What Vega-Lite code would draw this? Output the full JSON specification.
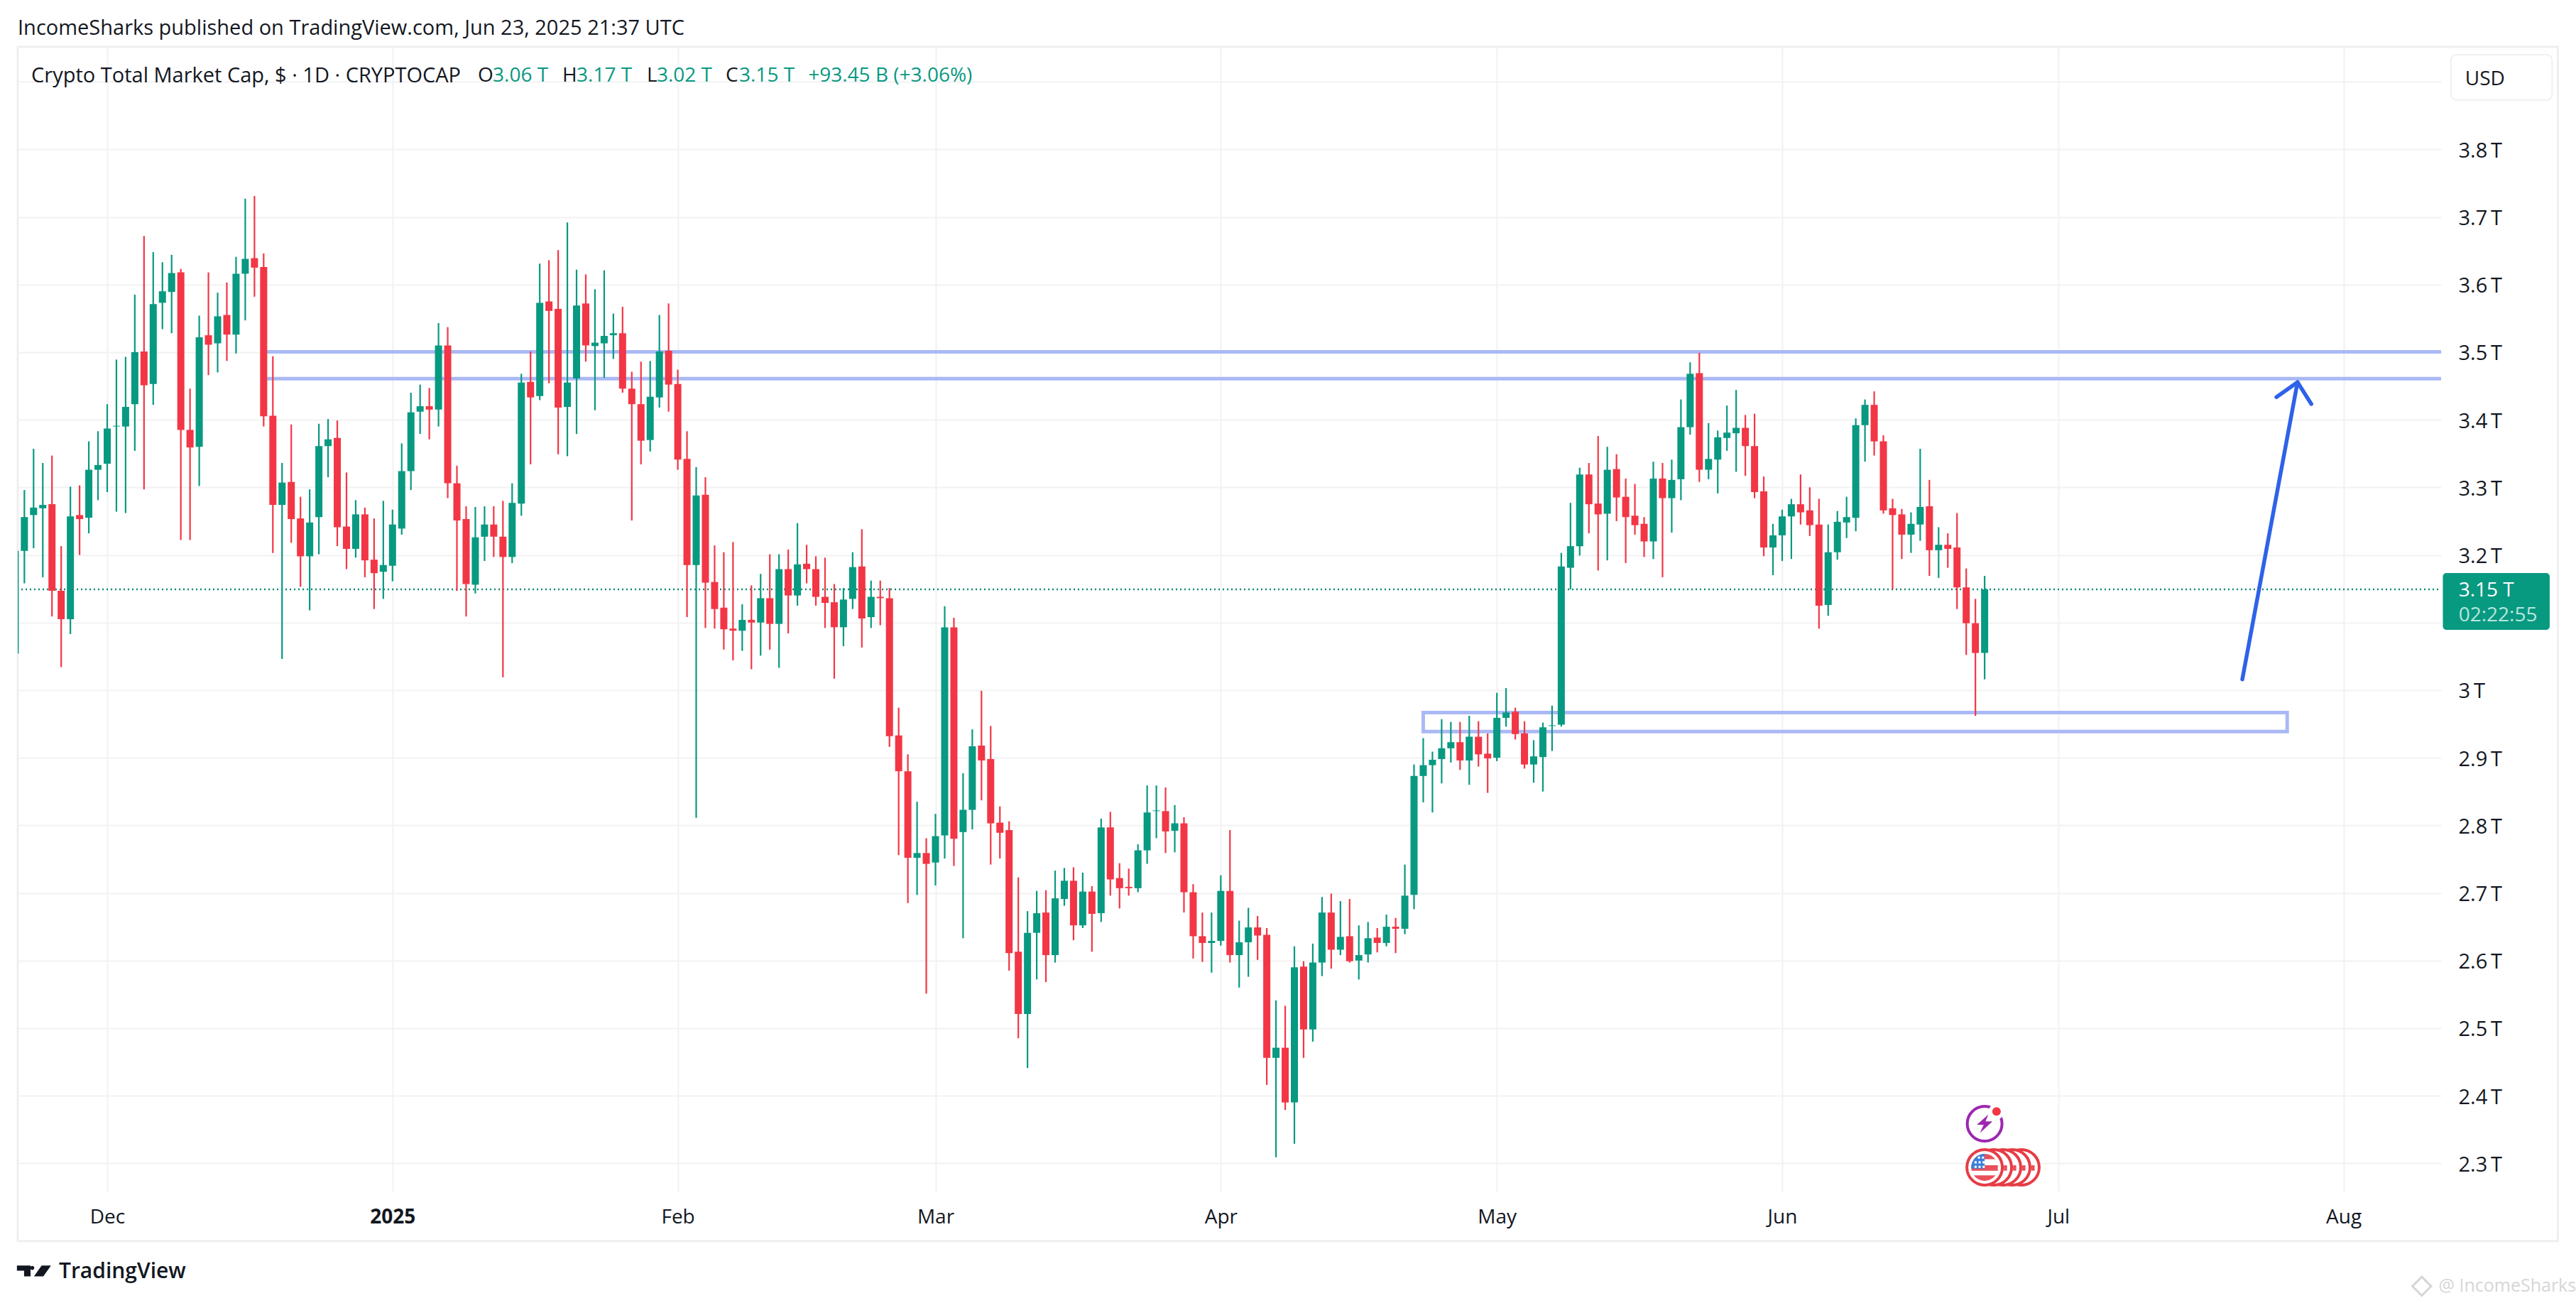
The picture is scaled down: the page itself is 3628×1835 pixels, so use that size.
{
  "$schema": "https://vega.github.io/schema/vega-lite/v6.json",
  "width": 3413,
  "height": 1612,
  "autosize": "none",
  "padding": {"left": 25, "top": 66, "right": 190, "bottom": 157},
  "background": "#ffffff",
  "config": {"font": "Open Sans", "view": {"stroke": null}},
  "datasets": {
    "candles": [
      {"date":"2024-11-21","open":3.054,"high":3.206,"low":3.054,"close":3.206},
      {"date":"2024-11-22","open":3.206,"high":3.296,"low":3.158,"close":3.256},
      {"date":"2024-11-23","open":3.259,"high":3.357,"low":3.210,"close":3.270},
      {"date":"2024-11-24","open":3.269,"high":3.336,"low":3.167,"close":3.274},
      {"date":"2024-11-25","open":3.275,"high":3.347,"low":3.109,"close":3.147},
      {"date":"2024-11-26","open":3.147,"high":3.213,"low":3.034,"close":3.105},
      {"date":"2024-11-27","open":3.105,"high":3.301,"low":3.083,"close":3.257},
      {"date":"2024-11-28","open":3.259,"high":3.303,"low":3.200,"close":3.253},
      {"date":"2024-11-29","open":3.255,"high":3.368,"low":3.232,"close":3.326},
      {"date":"2024-11-30","open":3.326,"high":3.383,"low":3.281,"close":3.333},
      {"date":"2024-12-01","open":3.335,"high":3.423,"low":3.293,"close":3.387},
      {"date":"2024-12-02","open":3.390,"high":3.489,"low":3.264,"close":3.391},
      {"date":"2024-12-03","open":3.390,"high":3.493,"low":3.262,"close":3.419},
      {"date":"2024-12-04","open":3.423,"high":3.585,"low":3.354,"close":3.500},
      {"date":"2024-12-05","open":3.501,"high":3.672,"low":3.297,"close":3.451},
      {"date":"2024-12-06","open":3.453,"high":3.648,"low":3.422,"close":3.571},
      {"date":"2024-12-07","open":3.573,"high":3.633,"low":3.534,"close":3.590},
      {"date":"2024-12-08","open":3.589,"high":3.644,"low":3.528,"close":3.617},
      {"date":"2024-12-09","open":3.618,"high":3.623,"low":3.222,"close":3.385},
      {"date":"2024-12-10","open":3.385,"high":3.446,"low":3.222,"close":3.359},
      {"date":"2024-12-11","open":3.360,"high":3.554,"low":3.302,"close":3.522},
      {"date":"2024-12-12","open":3.525,"high":3.618,"low":3.466,"close":3.511},
      {"date":"2024-12-13","open":3.513,"high":3.588,"low":3.470,"close":3.553},
      {"date":"2024-12-14","open":3.555,"high":3.603,"low":3.487,"close":3.526},
      {"date":"2024-12-15","open":3.526,"high":3.641,"low":3.498,"close":3.616},
      {"date":"2024-12-16","open":3.616,"high":3.727,"low":3.547,"close":3.638},
      {"date":"2024-12-17","open":3.639,"high":3.731,"low":3.582,"close":3.625},
      {"date":"2024-12-18","open":3.626,"high":3.646,"low":3.390,"close":3.405},
      {"date":"2024-12-19","open":3.406,"high":3.494,"low":3.203,"close":3.274},
      {"date":"2024-12-20","open":3.274,"high":3.336,"low":3.046,"close":3.307},
      {"date":"2024-12-21","open":3.308,"high":3.393,"low":3.218,"close":3.253},
      {"date":"2024-12-22","open":3.254,"high":3.286,"low":3.153,"close":3.198},
      {"date":"2024-12-23","open":3.198,"high":3.297,"low":3.118,"close":3.248},
      {"date":"2024-12-24","open":3.256,"high":3.394,"low":3.201,"close":3.361},
      {"date":"2024-12-25","open":3.361,"high":3.401,"low":3.315,"close":3.371},
      {"date":"2024-12-26","open":3.373,"high":3.399,"low":3.213,"close":3.241},
      {"date":"2024-12-27","open":3.242,"high":3.322,"low":3.179,"close":3.209},
      {"date":"2024-12-28","open":3.209,"high":3.281,"low":3.196,"close":3.260},
      {"date":"2024-12-29","open":3.260,"high":3.270,"low":3.167,"close":3.192},
      {"date":"2024-12-30","open":3.193,"high":3.254,"low":3.120,"close":3.173},
      {"date":"2024-12-31","open":3.175,"high":3.280,"low":3.135,"close":3.185},
      {"date":"2025-01-01","open":3.184,"high":3.267,"low":3.161,"close":3.245},
      {"date":"2025-01-02","open":3.239,"high":3.365,"low":3.230,"close":3.324},
      {"date":"2025-01-03","open":3.324,"high":3.440,"low":3.296,"close":3.411},
      {"date":"2025-01-04","open":3.412,"high":3.452,"low":3.379,"close":3.420},
      {"date":"2025-01-05","open":3.420,"high":3.447,"low":3.371,"close":3.415},
      {"date":"2025-01-06","open":3.415,"high":3.543,"low":3.390,"close":3.510},
      {"date":"2025-01-07","open":3.510,"high":3.537,"low":3.284,"close":3.306},
      {"date":"2025-01-08","open":3.306,"high":3.332,"low":3.147,"close":3.251},
      {"date":"2025-01-09","open":3.253,"high":3.272,"low":3.109,"close":3.157},
      {"date":"2025-01-10","open":3.156,"high":3.271,"low":3.143,"close":3.226},
      {"date":"2025-01-11","open":3.227,"high":3.272,"low":3.191,"close":3.245},
      {"date":"2025-01-12","open":3.245,"high":3.272,"low":3.197,"close":3.227},
      {"date":"2025-01-13","open":3.227,"high":3.280,"low":3.019,"close":3.197},
      {"date":"2025-01-14","open":3.197,"high":3.306,"low":3.188,"close":3.277},
      {"date":"2025-01-15","open":3.276,"high":3.468,"low":3.258,"close":3.455},
      {"date":"2025-01-16","open":3.456,"high":3.501,"low":3.334,"close":3.433},
      {"date":"2025-01-17","open":3.435,"high":3.631,"low":3.429,"close":3.573},
      {"date":"2025-01-18","open":3.575,"high":3.636,"low":3.454,"close":3.561},
      {"date":"2025-01-19","open":3.564,"high":3.651,"low":3.349,"close":3.418},
      {"date":"2025-01-20","open":3.419,"high":3.692,"low":3.346,"close":3.455},
      {"date":"2025-01-21","open":3.461,"high":3.622,"low":3.379,"close":3.569},
      {"date":"2025-01-22","open":3.572,"high":3.615,"low":3.486,"close":3.510},
      {"date":"2025-01-23","open":3.509,"high":3.593,"low":3.414,"close":3.514},
      {"date":"2025-01-24","open":3.513,"high":3.621,"low":3.462,"close":3.524},
      {"date":"2025-01-25","open":3.525,"high":3.557,"low":3.490,"close":3.528},
      {"date":"2025-01-26","open":3.528,"high":3.567,"low":3.440,"close":3.446},
      {"date":"2025-01-27","open":3.446,"high":3.471,"low":3.251,"close":3.423},
      {"date":"2025-01-28","open":3.423,"high":3.486,"low":3.334,"close":3.369},
      {"date":"2025-01-29","open":3.370,"high":3.487,"low":3.353,"close":3.434},
      {"date":"2025-01-30","open":3.433,"high":3.555,"low":3.418,"close":3.501},
      {"date":"2025-01-31","open":3.502,"high":3.572,"low":3.412,"close":3.452},
      {"date":"2025-02-01","open":3.453,"high":3.474,"low":3.326,"close":3.341},
      {"date":"2025-02-02","open":3.342,"high":3.383,"low":3.108,"close":3.185},
      {"date":"2025-02-03","open":3.185,"high":3.330,"low":2.811,"close":3.288},
      {"date":"2025-02-04","open":3.289,"high":3.315,"low":3.092,"close":3.159},
      {"date":"2025-02-05","open":3.160,"high":3.214,"low":3.091,"close":3.120},
      {"date":"2025-02-06","open":3.122,"high":3.204,"low":3.060,"close":3.090},
      {"date":"2025-02-07","open":3.091,"high":3.219,"low":3.044,"close":3.088},
      {"date":"2025-02-08","open":3.088,"high":3.127,"low":3.058,"close":3.104},
      {"date":"2025-02-09","open":3.104,"high":3.155,"low":3.031,"close":3.100},
      {"date":"2025-02-10","open":3.100,"high":3.172,"low":3.051,"close":3.136},
      {"date":"2025-02-11","open":3.136,"high":3.201,"low":3.060,"close":3.098},
      {"date":"2025-02-12","open":3.098,"high":3.201,"low":3.033,"close":3.179},
      {"date":"2025-02-13","open":3.179,"high":3.208,"low":3.084,"close":3.140},
      {"date":"2025-02-14","open":3.140,"high":3.247,"low":3.125,"close":3.186},
      {"date":"2025-02-15","open":3.187,"high":3.215,"low":3.158,"close":3.179},
      {"date":"2025-02-16","open":3.179,"high":3.198,"low":3.125,"close":3.138},
      {"date":"2025-02-17","open":3.138,"high":3.196,"low":3.092,"close":3.129},
      {"date":"2025-02-18","open":3.130,"high":3.157,"low":3.017,"close":3.093},
      {"date":"2025-02-19","open":3.093,"high":3.151,"low":3.065,"close":3.134},
      {"date":"2025-02-20","open":3.135,"high":3.204,"low":3.120,"close":3.182},
      {"date":"2025-02-21","open":3.183,"high":3.238,"low":3.063,"close":3.106},
      {"date":"2025-02-22","open":3.108,"high":3.162,"low":3.092,"close":3.138},
      {"date":"2025-02-23","open":3.138,"high":3.162,"low":3.096,"close":3.136},
      {"date":"2025-02-24","open":3.136,"high":3.151,"low":2.916,"close":2.932},
      {"date":"2025-02-25","open":2.933,"high":2.974,"low":2.756,"close":2.880},
      {"date":"2025-02-26","open":2.880,"high":2.905,"low":2.685,"close":2.752},
      {"date":"2025-02-27","open":2.752,"high":2.835,"low":2.697,"close":2.759},
      {"date":"2025-02-28","open":2.759,"high":2.781,"low":2.551,"close":2.743},
      {"date":"2025-03-01","open":2.745,"high":2.817,"low":2.711,"close":2.784},
      {"date":"2025-03-02","open":2.785,"high":3.124,"low":2.751,"close":3.093},
      {"date":"2025-03-03","open":3.093,"high":3.107,"low":2.740,"close":2.780},
      {"date":"2025-03-04","open":2.790,"high":2.877,"low":2.633,"close":2.823},
      {"date":"2025-03-05","open":2.823,"high":2.942,"low":2.794,"close":2.917},
      {"date":"2025-03-06","open":2.918,"high":2.999,"low":2.837,"close":2.896},
      {"date":"2025-03-07","open":2.898,"high":2.947,"low":2.742,"close":2.803},
      {"date":"2025-03-08","open":2.804,"high":2.828,"low":2.751,"close":2.789},
      {"date":"2025-03-09","open":2.793,"high":2.806,"low":2.585,"close":2.611},
      {"date":"2025-03-10","open":2.613,"high":2.723,"low":2.485,"close":2.521},
      {"date":"2025-03-11","open":2.521,"high":2.673,"low":2.441,"close":2.641},
      {"date":"2025-03-12","open":2.641,"high":2.703,"low":2.572,"close":2.670},
      {"date":"2025-03-13","open":2.671,"high":2.704,"low":2.568,"close":2.608},
      {"date":"2025-03-14","open":2.608,"high":2.733,"low":2.597,"close":2.692},
      {"date":"2025-03-15","open":2.691,"high":2.737,"low":2.681,"close":2.718},
      {"date":"2025-03-16","open":2.718,"high":2.738,"low":2.630,"close":2.652},
      {"date":"2025-03-17","open":2.652,"high":2.730,"low":2.648,"close":2.702},
      {"date":"2025-03-18","open":2.702,"high":2.710,"low":2.613,"close":2.669},
      {"date":"2025-03-19","open":2.670,"high":2.810,"low":2.657,"close":2.797},
      {"date":"2025-03-20","open":2.797,"high":2.820,"low":2.696,"close":2.720},
      {"date":"2025-03-21","open":2.722,"high":2.744,"low":2.677,"close":2.707},
      {"date":"2025-03-22","open":2.709,"high":2.736,"low":2.696,"close":2.707},
      {"date":"2025-03-23","open":2.707,"high":2.772,"low":2.701,"close":2.763},
      {"date":"2025-03-24","open":2.763,"high":2.859,"low":2.743,"close":2.819},
      {"date":"2025-03-25","open":2.821,"high":2.859,"low":2.781,"close":2.822},
      {"date":"2025-03-26","open":2.821,"high":2.856,"low":2.759,"close":2.791},
      {"date":"2025-03-27","open":2.792,"high":2.830,"low":2.760,"close":2.803},
      {"date":"2025-03-28","open":2.803,"high":2.812,"low":2.671,"close":2.701},
      {"date":"2025-03-29","open":2.701,"high":2.713,"low":2.603,"close":2.636},
      {"date":"2025-03-30","open":2.636,"high":2.671,"low":2.598,"close":2.626},
      {"date":"2025-03-31","open":2.626,"high":2.671,"low":2.582,"close":2.629},
      {"date":"2025-04-01","open":2.629,"high":2.726,"low":2.622,"close":2.703},
      {"date":"2025-04-02","open":2.703,"high":2.793,"low":2.597,"close":2.608},
      {"date":"2025-04-03","open":2.608,"high":2.659,"low":2.560,"close":2.627},
      {"date":"2025-04-04","open":2.627,"high":2.678,"low":2.576,"close":2.649},
      {"date":"2025-04-05","open":2.649,"high":2.666,"low":2.601,"close":2.637},
      {"date":"2025-04-06","open":2.638,"high":2.648,"low":2.416,"close":2.456},
      {"date":"2025-04-07","open":2.456,"high":2.541,"low":2.309,"close":2.471},
      {"date":"2025-04-08","open":2.471,"high":2.533,"low":2.379,"close":2.390},
      {"date":"2025-04-09","open":2.390,"high":2.621,"low":2.329,"close":2.590},
      {"date":"2025-04-10","open":2.591,"high":2.599,"low":2.456,"close":2.498},
      {"date":"2025-04-11","open":2.498,"high":2.625,"low":2.480,"close":2.597},
      {"date":"2025-04-12","open":2.597,"high":2.694,"low":2.577,"close":2.671},
      {"date":"2025-04-13","open":2.671,"high":2.699,"low":2.588,"close":2.616},
      {"date":"2025-04-14","open":2.616,"high":2.688,"low":2.608,"close":2.635},
      {"date":"2025-04-15","open":2.636,"high":2.691,"low":2.597,"close":2.599},
      {"date":"2025-04-16","open":2.600,"high":2.652,"low":2.572,"close":2.608},
      {"date":"2025-04-17","open":2.609,"high":2.657,"low":2.597,"close":2.633},
      {"date":"2025-04-18","open":2.634,"high":2.648,"low":2.612,"close":2.626},
      {"date":"2025-04-19","open":2.626,"high":2.668,"low":2.621,"close":2.650},
      {"date":"2025-04-20","open":2.650,"high":2.663,"low":2.611,"close":2.647},
      {"date":"2025-04-21","open":2.647,"high":2.742,"low":2.639,"close":2.696},
      {"date":"2025-04-22","open":2.697,"high":2.890,"low":2.676,"close":2.873},
      {"date":"2025-04-23","open":2.873,"high":2.929,"low":2.834,"close":2.889},
      {"date":"2025-04-24","open":2.889,"high":2.909,"low":2.819,"close":2.897},
      {"date":"2025-04-25","open":2.898,"high":2.957,"low":2.862,"close":2.914},
      {"date":"2025-04-26","open":2.914,"high":2.953,"low":2.893,"close":2.923},
      {"date":"2025-04-27","open":2.923,"high":2.953,"low":2.882,"close":2.896},
      {"date":"2025-04-28","open":2.896,"high":2.962,"low":2.860,"close":2.931},
      {"date":"2025-04-29","open":2.931,"high":2.954,"low":2.887,"close":2.905},
      {"date":"2025-04-30","open":2.906,"high":2.936,"low":2.848,"close":2.899},
      {"date":"2025-05-01","open":2.900,"high":2.996,"low":2.895,"close":2.959},
      {"date":"2025-05-02","open":2.959,"high":3.003,"low":2.946,"close":2.967},
      {"date":"2025-05-03","open":2.968,"high":2.974,"low":2.927,"close":2.935},
      {"date":"2025-05-04","open":2.936,"high":2.954,"low":2.884,"close":2.890},
      {"date":"2025-05-05","open":2.890,"high":2.926,"low":2.863,"close":2.902},
      {"date":"2025-05-06","open":2.901,"high":2.952,"low":2.850,"close":2.945},
      {"date":"2025-05-07","open":2.947,"high":2.977,"low":2.910,"close":2.948},
      {"date":"2025-05-08","open":2.949,"high":3.203,"low":2.946,"close":3.183},
      {"date":"2025-05-09","open":3.181,"high":3.277,"low":3.149,"close":3.213},
      {"date":"2025-05-10","open":3.213,"high":3.329,"low":3.199,"close":3.319},
      {"date":"2025-05-11","open":3.319,"high":3.336,"low":3.232,"close":3.275},
      {"date":"2025-05-12","open":3.276,"high":3.376,"low":3.177,"close":3.260},
      {"date":"2025-05-13","open":3.261,"high":3.360,"low":3.192,"close":3.326},
      {"date":"2025-05-14","open":3.327,"high":3.349,"low":3.250,"close":3.285},
      {"date":"2025-05-15","open":3.286,"high":3.313,"low":3.188,"close":3.256},
      {"date":"2025-05-16","open":3.258,"high":3.305,"low":3.230,"close":3.244},
      {"date":"2025-05-17","open":3.246,"high":3.256,"low":3.197,"close":3.220},
      {"date":"2025-05-18","open":3.220,"high":3.338,"low":3.194,"close":3.313},
      {"date":"2025-05-19","open":3.313,"high":3.336,"low":3.167,"close":3.284},
      {"date":"2025-05-20","open":3.284,"high":3.341,"low":3.233,"close":3.311},
      {"date":"2025-05-21","open":3.312,"high":3.430,"low":3.281,"close":3.389},
      {"date":"2025-05-22","open":3.389,"high":3.485,"low":3.378,"close":3.468},
      {"date":"2025-05-23","open":3.469,"high":3.499,"low":3.308,"close":3.326},
      {"date":"2025-05-24","open":3.326,"high":3.395,"low":3.312,"close":3.342},
      {"date":"2025-05-25","open":3.341,"high":3.384,"low":3.291,"close":3.374},
      {"date":"2025-05-26","open":3.373,"high":3.421,"low":3.354,"close":3.381},
      {"date":"2025-05-27","open":3.380,"high":3.444,"low":3.323,"close":3.388},
      {"date":"2025-05-28","open":3.388,"high":3.407,"low":3.317,"close":3.361},
      {"date":"2025-05-29","open":3.361,"high":3.409,"low":3.284,"close":3.293},
      {"date":"2025-05-30","open":3.294,"high":3.316,"low":3.198,"close":3.211},
      {"date":"2025-05-31","open":3.211,"high":3.246,"low":3.170,"close":3.229},
      {"date":"2025-06-01","open":3.229,"high":3.267,"low":3.191,"close":3.257},
      {"date":"2025-06-02","open":3.257,"high":3.283,"low":3.194,"close":3.275},
      {"date":"2025-06-03","open":3.275,"high":3.319,"low":3.245,"close":3.263},
      {"date":"2025-06-04","open":3.266,"high":3.300,"low":3.228,"close":3.244},
      {"date":"2025-06-05","open":3.245,"high":3.283,"low":3.091,"close":3.125},
      {"date":"2025-06-06","open":3.126,"high":3.245,"low":3.110,"close":3.204},
      {"date":"2025-06-07","open":3.204,"high":3.265,"low":3.193,"close":3.249},
      {"date":"2025-06-08","open":3.248,"high":3.286,"low":3.225,"close":3.256},
      {"date":"2025-06-09","open":3.255,"high":3.402,"low":3.235,"close":3.392},
      {"date":"2025-06-10","open":3.392,"high":3.430,"low":3.338,"close":3.422},
      {"date":"2025-06-11","open":3.422,"high":3.442,"low":3.347,"close":3.368},
      {"date":"2025-06-12","open":3.368,"high":3.377,"low":3.261,"close":3.266},
      {"date":"2025-06-13","open":3.269,"high":3.283,"low":3.149,"close":3.259},
      {"date":"2025-06-14","open":3.260,"high":3.268,"low":3.194,"close":3.230},
      {"date":"2025-06-15","open":3.230,"high":3.263,"low":3.203,"close":3.246},
      {"date":"2025-06-16","open":3.245,"high":3.357,"low":3.221,"close":3.271},
      {"date":"2025-06-17","open":3.272,"high":3.311,"low":3.169,"close":3.207},
      {"date":"2025-06-18","open":3.207,"high":3.241,"low":3.166,"close":3.215},
      {"date":"2025-06-19","open":3.215,"high":3.232,"low":3.181,"close":3.209},
      {"date":"2025-06-20","open":3.211,"high":3.262,"low":3.120,"close":3.152},
      {"date":"2025-06-21","open":3.152,"high":3.180,"low":3.052,"close":3.099},
      {"date":"2025-06-22","open":3.099,"high":3.135,"low":2.962,"close":3.055},
      {"date":"2025-06-23","open":3.055,"high":3.169,"low":3.016,"close":3.149}
    ],
    "arrow": [
      {"part":"shaft","i":1,"date":"2025-07-21T00:00:00Z","value":3.016},
      {"part":"shaft","i":2,"date":"2025-07-27T00:00:00Z","value":3.4556},
      {"part":"head","i":1,"date":"2025-07-24T17:00:00Z","value":3.4335},
      {"part":"head","i":2,"date":"2025-07-27T00:00:00Z","value":3.4556},
      {"part":"head","i":3,"date":"2025-07-28T12:00:00Z","value":3.4233}
    ],
    "labels": [
      {"date":"2024-11-21T06:43:00Z","value":3.979,"text":"IncomeSharks published on TradingView.com, Jun 23, 2025 21:37 UTC","tone":"ink"},
      {"date":"2024-11-22T18:00:00Z","value":3.909,"text":"Crypto Total Market Cap, $ · 1D · CRYPTOCAP","tone":"ink"},
      {"date":"2025-01-10T06:43:00Z","value":3.909,"text":"O","tone":"ink"},
      {"date":"2025-01-11T21:36:00Z","value":3.909,"text":"3.06 T","tone":"up"},
      {"date":"2025-01-19T11:00:00Z","value":3.909,"text":"H","tone":"ink"},
      {"date":"2025-01-21T00:00:00Z","value":3.909,"text":"3.17 T","tone":"up"},
      {"date":"2025-01-28T15:30:00Z","value":3.909,"text":"L","tone":"ink"},
      {"date":"2025-01-29T17:00:00Z","value":3.909,"text":"3.02 T","tone":"up"},
      {"date":"2025-02-06T05:00:00Z","value":3.909,"text":"C","tone":"ink"},
      {"date":"2025-02-07T16:00:00Z","value":3.909,"text":"3.15 T","tone":"up"},
      {"date":"2025-02-15T04:00:00Z","value":3.909,"text":"+93.45 B (+3.06%)","tone":"up"},
      {"date":"2025-08-14T05:00:00Z","value":3.903,"text":"USD","tone":"ink"},
      {"date":"2025-08-13T12:00:00Z","value":3.147,"text":"3.15 T","tone":"white"},
      {"date":"2025-08-13T12:00:00Z","value":3.1104,"text":"02:22:55","tone":"pale"}
    ]
  },
  "encoding": {
    "x": {
      "field": "date",
      "type": "temporal",
      "title": null,
      "scale": {"type": "utc", "padding": 0, "domain": ["2024-11-21T06:43:00Z", "2025-08-11T14:24:00Z"]},
      "axis": {
        "values": [
          {"year":2024,"month":12,"date":1,"utc":true},
          {"year":2025,"month":1,"date":1,"utc":true},
          {"year":2025,"month":2,"date":1,"utc":true},
          {"year":2025,"month":3,"date":1,"utc":true},
          {"year":2025,"month":4,"date":1,"utc":true},
          {"year":2025,"month":5,"date":1,"utc":true},
          {"year":2025,"month":6,"date":1,"utc":true},
          {"year":2025,"month":7,"date":1,"utc":true},
          {"year":2025,"month":8,"date":1,"utc":true}
        ],
        "labelExpr": "utcmonth(datum.value) == 0 ? utcFormat(datum.value, '%Y') : utcFormat(datum.value, '%b')",
        "labelFontWeight": {"condition": {"test": "utcmonth(datum.value) == 0", "value": 700}, "value": 400},
        "labelFontSize": 28,
        "labelColor": "#131722",
        "labelPadding": 22,
        "labelOverlap": false,
        "domain": false,
        "ticks": false,
        "grid": true,
        "gridColor": "#f2f2f2",
        "gridWidth": 2
      }
    },
    "y": {
      "field": "value",
      "type": "quantitative",
      "title": null,
      "scale": {"domain": [2.2583, 3.9516], "nice": false, "zero": false},
      "axis": {
        "orient": "right",
        "values": [2.3, 2.4, 2.5, 2.6, 2.7, 2.8, 2.9, 3, 3.1, 3.2, 3.3, 3.4, 3.5, 3.6, 3.7, 3.8, 3.9],
        "labelExpr": "(datum.value > 3.85 || (datum.value > 3.05 && datum.value < 3.15)) ? '' : (datum.value == 3 ? '3' : format(datum.value, '.1f')) + '\u2009T'",
        "labelFontSize": 29,
        "labelColor": "#131722",
        "labelPadding": 24,
        "labelOffset": 2,
        "domain": false,
        "ticks": false,
        "grid": true,
        "gridColor": "#f2f2f2",
        "gridWidth": 2
      }
    }
  },
  "layer": [
    {
      "data": {"values": [{"date":"2024-11-21T06:43:00Z","date2":"2025-08-24T07:00:00Z","value":3.9516,"value2":2.185}]},
      "mark": {"type": "rect", "filled": false, "stroke": "#efefef", "strokeWidth": 3},
      "encoding": {"x2": {"field": "date2"}, "y2": {"field": "value2"}}
    },
    {
      "data": {"values": [
        {"date":"2024-12-18","date2":"2025-08-12","value":3.5005},
        {"date":"2024-12-18","date2":"2025-08-12","value":3.4608}
      ]},
      "mark": {"type": "rule", "color": "#aab9f5", "strokeWidth": 5, "clip": true},
      "encoding": {"x2": {"field": "date2"}}
    },
    {
      "data": {"values": [{"date":"2025-04-23","date2":"2025-07-25T21:00:00Z","value":2.9669,"value2":2.9388}]},
      "mark": {"type": "rect", "filled": false, "stroke": "#aab9f5", "strokeWidth": 5},
      "encoding": {"x2": {"field": "date2"}, "y2": {"field": "value2"}}
    },
    {
      "data": {"values": [{"date":"2024-11-21T16:00:00Z","date2":"2025-08-11T14:24:00Z","value":3.149}]},
      "mark": {"type": "rule", "color": "#0b8a75", "strokeWidth": 2.5, "strokeDash": [2, 4]},
      "encoding": {"x2": {"field": "date2"}}
    },
    {
      "data": {"name": "candles"},
      "mark": {"type": "rule", "strokeWidth": 2.2, "clip": true},
      "encoding": {
        "y": {"field": "low", "type": "quantitative", "title": null, "scale": {"domain": [2.2583, 3.9516], "nice": false, "zero": false}},
        "y2": {"field": "high"},
        "color": {"condition": {"test": "datum.close >= datum.open", "value": "#089981"}, "value": "#f23645"}
      }
    },
    {
      "data": {"name": "candles"},
      "mark": {"type": "bar", "size": 10, "clip": true},
      "encoding": {
        "y": {"field": "open", "type": "quantitative", "title": null, "scale": {"domain": [2.2583, 3.9516], "nice": false, "zero": false}},
        "y2": {"field": "close"},
        "color": {"condition": {"test": "datum.close >= datum.open", "value": "#089981"}, "value": "#f23645"}
      }
    },
    {
      "data": {"name": "arrow"},
      "mark": {"type": "line", "color": "#2e62e8", "strokeWidth": 5.5, "strokeCap": "round", "strokeJoin": "round"},
      "encoding": {"detail": {"field": "part"}, "order": {"field": "i"}}
    },
    {
      "data": {"values": [{"date":"2025-06-23","value":2.3585}]},
      "mark": {"type": "point", "filled": false, "stroke": "#9c27b0", "strokeWidth": 4, "size": 2400, "opacity": 1}
    },
    {
      "data": {"values": [{"date":"2025-06-24T07:00:00Z","value":2.3768}]},
      "mark": {"type": "point", "filled": true, "fill": "#ffffff", "size": 484, "opacity": 1}
    },
    {
      "data": {"values": [{"date":"2025-06-24T07:00:00Z","value":2.3768}]},
      "mark": {"type": "point", "filled": true, "fill": "#f23645", "size": 144, "opacity": 1}
    },
    {
      "data": {"values": [{"date":"2025-06-23","value":2.3585}]},
      "mark": {"type": "point", "filled": true, "fill": "#9c27b0", "size": 676, "opacity": 1, "shape": "M0.4,-1 L-0.85,0.1 L-0.1,0.1 L-0.5,1 L0.85,-0.25 L0.1,-0.25 Z"}
    },
    {
      "data": {"values": [
        {"date":"2025-06-27","value":2.2941},
        {"date":"2025-06-26","value":2.2941},
        {"date":"2025-06-25","value":2.2941},
        {"date":"2025-06-24","value":2.2941},
        {"date":"2025-06-23","value":2.2941}
      ]},
      "mark": {"type": "point", "filled": false, "fill": "#ffffff", "fillOpacity": 1, "stroke": "#e63c46", "strokeWidth": 4, "size": 2500, "opacity": 1, "shape": "circle"}
    },
    {
      "data": {"values": [
        {"date":"2025-06-27","value":2.2941},
        {"date":"2025-06-26","value":2.2941},
        {"date":"2025-06-25","value":2.2941},
        {"date":"2025-06-24","value":2.2941}
      ]},
      "mark": {"type": "point", "filled": true, "fill": "#e9505a", "size": 1444, "opacity": 1, "shape": "M0.74,-0.15 L0.98,-0.15 L0.98,0.25 L0.74,0.25 Z"}
    },
    {
      "data": {"values": [{"date":"2025-06-23","value":2.2941}]},
      "mark": {"type": "point", "filled": true, "fill": "#e9505a", "size": 1444, "opacity": 1, "shape": "M-0.8,-0.6 A1,1 0 0 1 0.8,-0.6 Z M-0.98,-0.15 L0.98,-0.15 L0.98,0.25 L-0.97,0.25 Z M-0.8,0.6 A1,1 0 0 0 0.8,0.6 Z"}
    },
    {
      "data": {"values": [{"date":"2025-06-23","value":2.2941}]},
      "mark": {"type": "point", "filled": true, "fill": "#3c7fd9", "size": 1444, "opacity": 1, "shape": "M0,-1 L0,0.1 L-0.99,0.1 A1,1 0 0 1 0,-1 Z"}
    },
    {
      "data": {"values": [{"date":"2025-06-23","value":2.2941}]},
      "mark": {"type": "point", "filled": true, "fill": "#ffffff", "size": 1444, "opacity": 1, "shape": "M-0.5,-0.8 h0.16 v0.16 h-0.16 Z M-0.2,-0.8 h0.16 v0.16 h-0.16 Z M-0.75,-0.45 h0.16 v0.16 h-0.16 Z M-0.45,-0.45 h0.16 v0.16 h-0.16 Z M-0.15,-0.45 h0.16 v0.16 h-0.16 Z M-0.75,-0.12 h0.16 v0.16 h-0.16 Z M-0.45,-0.12 h0.16 v0.16 h-0.16 Z M-0.15,-0.12 h0.16 v0.16 h-0.16 Z"}
    },
    {
      "data": {"values": [{"date":"2025-08-11T19:00:00Z","date2":"2025-08-23T09:36:00Z","value":3.1733,"value2":3.0893}]},
      "mark": {"type": "rect", "color": "#089981", "cornerRadius": 5},
      "encoding": {"x2": {"field": "date2"}, "y2": {"field": "value2"}}
    },
    {
      "data": {"values": [{"date":"2025-08-12T16:00:00Z","date2":"2025-08-23T16:00:00Z","value":3.9401,"value2":3.8729}]},
      "mark": {"type": "rect", "fill": "#ffffff", "stroke": "#f0f0f0", "strokeWidth": 2, "cornerRadius": 8},
      "encoding": {"x2": {"field": "date2"}, "y2": {"field": "value2"}}
    },
    {
      "data": {"name": "labels"},
      "mark": {"type": "text", "align": "left", "baseline": "middle"},
      "encoding": {
        "text": {"field": "text"},
        "size": {"condition": {"test": "length(datum.text) > 30", "value": 29}, "value": 28},
        "color": {
          "field": "tone",
          "legend": null,
          "scale": {"domain": ["ink", "up", "white", "pale"], "range": ["#131722", "#089981", "#ffffff", "#b8e6dc"]}
        }
      }
    },
    {
      "data": {"values": [{"date":"2024-11-25T18:00:00Z","value":2.1397,"text":"TradingView"}]},
      "mark": {"type": "text", "align": "left", "baseline": "middle", "fontSize": 30, "fontWeight": 600, "color": "#131722"},
      "encoding": {"text": {"field": "text"}}
    },
    {
      "data": {"values": [{"date":"2024-11-23T01:00:00Z","value":2.1408}]},
      "mark": {"type": "point", "filled": true, "fill": "#131722", "size": 2304, "opacity": 1, "shape": "M-1,-0.32 L-0.2,-0.32 L-0.2,0.32 L-0.58,0.32 L-0.58,-0.02 L-1,-0.02 Z M-0.1,-0.3 A0.12,0.12 0 1 1 -0.1,-0.06 A0.12,0.12 0 1 1 -0.1,-0.3 Z M0.45,-0.32 L1,-0.32 L0.55,0.32 L0,0.32 Z"}
    },
    {
      "data": {"values": [{"date":"2025-08-09T12:00:00Z","value":2.1182}]},
      "mark": {"type": "point", "shape": "diamond", "filled": false, "stroke": "#d6d6d6", "strokeWidth": 3, "size": 700, "opacity": 1}
    },
    {
      "data": {"values": [{"date":"2025-08-11T08:00:00Z","value":2.1182,"text":"@ IncomeSharks"}]},
      "mark": {"type": "text", "align": "left", "baseline": "middle", "fontSize": 25, "color": "#d6d6d6"},
      "encoding": {"text": {"field": "text"}}
    }
  ]
}
